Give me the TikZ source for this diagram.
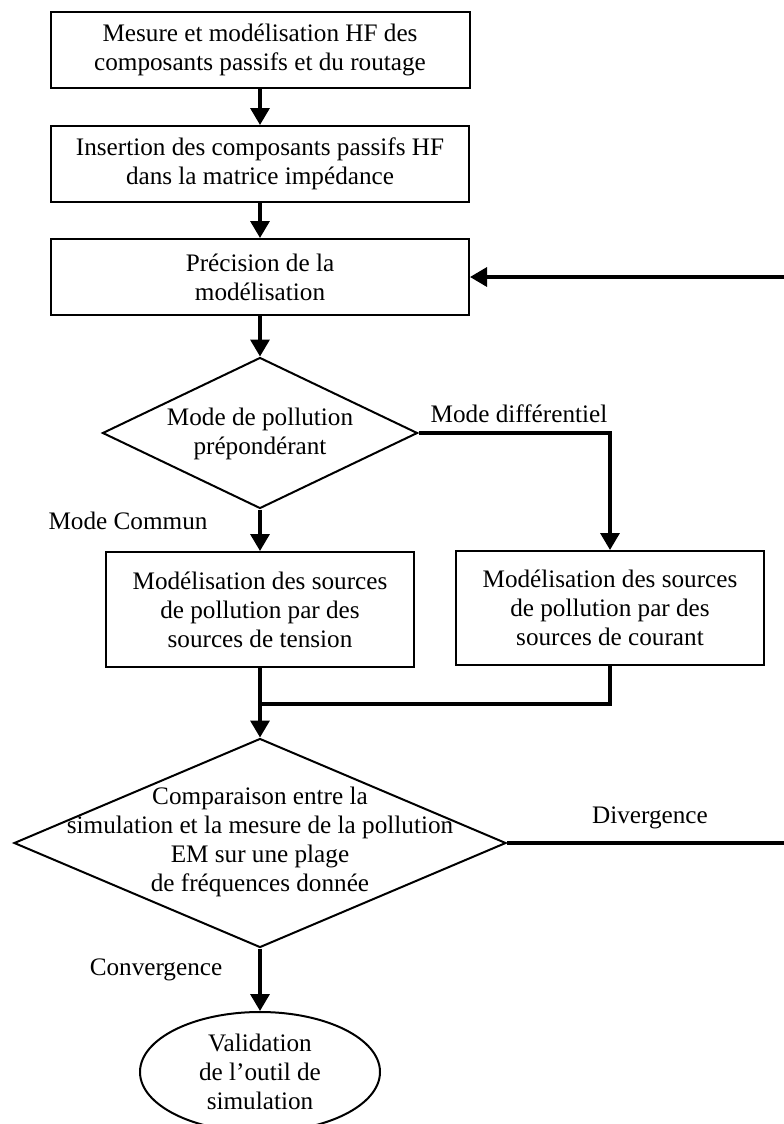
\documentclass[tikz,border=0pt]{standalone}
\usepackage{fontspec}
\setmainfont{Liberation Serif}
\usetikzlibrary{shapes.geometric,arrows.meta}
\begin{document}
\begin{tikzpicture}[x=0.5pt,y=-0.5pt,
 box/.style={draw,line width=1pt,rectangle,align=center,inner sep=0pt,font=\fontsize{12.6}{14.5}\selectfont},
 dia/.style={draw,line width=1pt,diamond,inner sep=0pt},
 oval/.style={draw,line width=1pt,ellipse,inner sep=0pt,align=center,font=\fontsize{12.6}{14.5}\selectfont},
 txt/.style={align=center,inner sep=0pt,font=\fontsize{12.6}{14.5}\selectfont},
 conn/.style={line width=1.7pt},
 arr/.style={conn,-{Triangle[width=9.5pt,length=8.5pt]}}]
\useasboundingbox (0,0) rectangle (783,1124);
\node[box,minimum width=209.5pt,minimum height=38pt] (b1) at (260,50) {Mesure et modélisation HF des\\composants passifs et du routage};
\node[box,minimum width=209pt,minimum height=38pt] (b2) at (260,164) {Insertion des composants passifs HF\\dans la matrice impédance};
\node[box,minimum width=209pt,minimum height=38pt] (b3) at (260,277) {Précision de la\\modélisation};
\node[dia,minimum width=157.5pt,minimum height=75.5pt] (d1) at (260,433) {};
\node[txt] (t1) at (260,434) {Mode de pollution\\prépondérant};
\node[box,minimum width=154pt,minimum height=57.5pt] (b4) at (260,609.5) {Modélisation des sources\\de pollution par des\\sources de tension};
\node[box,minimum width=154pt,minimum height=57pt] (b5) at (610,608) {Modélisation des sources\\de pollution par des\\sources de courant};
\node[dia,minimum width=246pt,minimum height=104.5pt] (d2) at (260,843) {};
\node[txt] (t2) at (260,842) {Comparaison entre la\\simulation et la mesure de la pollution\\EM sur une plage\\de fréquences donnée};
\node[oval,minimum width=120pt,minimum height=60pt] (e) at (260,1072) {Validation\\de l’outil de\\simulation};
\node[txt] (l1) at (519,414) {Mode différentiel};
\node[txt] (l2) at (128,521) {Mode Commun};
\node[txt] (l3) at (650,818) {Divergence};
\node[txt] (l4) at (156,970) {Convergence};
\coordinate (m) at (260,704);
\coordinate (r) at (800,0);
\draw[arr] (b1) -- (b2);
\draw[arr] (b2) -- (b3);
\draw[arr] (b3) -- (d1);
\draw[arr] (d1) -- (b4);
\draw[arr] (d1.east) -| (b5.north);
\draw[conn] (b4.south) -- (m);
\draw[conn] (b5.south) |- (m);
\draw[arr] (m) -- (d2.north);
\draw[arr] (d2.east) -- (d2.east -| r) -- (b3.east -| r) -- (b3.east);
\draw[arr] (d2) -- (e);
\end{tikzpicture}
\end{document}
